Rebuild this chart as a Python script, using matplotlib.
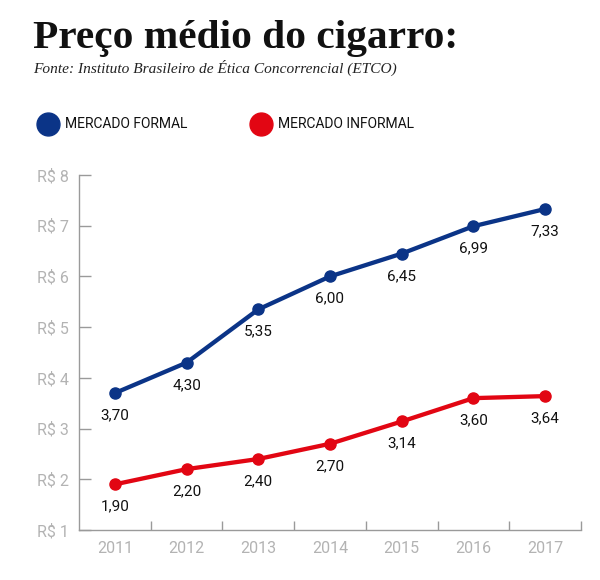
import matplotlib
matplotlib.use("Agg")
import matplotlib.pyplot as plt
from matplotlib.ticker import FixedLocator
from matplotlib.lines import Line2D

years = ["2011", "2012", "2013", "2014", "2015", "2016", "2017"]
formal = [3.70, 4.30, 5.35, 6.00, 6.45, 6.99, 7.33]
informal = [1.90, 2.20, 2.40, 2.70, 3.14, 3.60, 3.64]
yticks = [1, 2, 3, 4, 5, 6, 7, 8]
ytick_labels = ["R$ %d" % v for v in yticks]

BLUE = "#0b3487"
RED = "#e20613"
GRAY_AX = "#9a9a9a"
GRAY_TXT = "#b3b3b3"

W, H = 600, 580
fig = plt.figure(figsize=(6, 5.8), dpi=100)
fig.patch.set_facecolor("white")

ax = fig.add_axes([79 / W, 1 - 530 / H, (581 - 79) / W, (530 - 175) / H])
x = list(range(len(years)))

ax.plot(x, formal, color=BLUE, lw=3.1, marker="o", ms=8, solid_capstyle="round", zorder=3)
ax.plot(x, informal, color=RED, lw=3.1, marker="o", ms=8, solid_capstyle="round", zorder=3)

def fmt(v):
    return ("%.2f" % v).replace(".", ",")

for xi, v in zip(x, formal):
    ax.annotate(fmt(v), (xi, v), xytext=(0, -11), textcoords="offset points",
                ha="center", va="top", fontsize=11, family="Roboto", color="#111111")
for xi, v in zip(x, informal):
    ax.annotate(fmt(v), (xi, v), xytext=(0, -11), textcoords="offset points",
                ha="center", va="top", fontsize=11, family="Roboto", color="#111111")

ax.set_xlim(-0.5, len(years) - 0.5)
ax.set_ylim(1, 8)
for s in ["top", "right"]:
    ax.spines[s].set_visible(False)
for s in ["left", "bottom"]:
    ax.spines[s].set_color(GRAY_AX)
    ax.spines[s].set_linewidth(1.0)

ax.set_yticks(yticks)
ax.set_yticklabels(ytick_labels)
ax.tick_params(axis="y", direction="in", length=8.5, width=1, color=GRAY_AX,
               labelcolor=GRAY_TXT, labelsize=11.5, pad=7)
ax.set_xticks(x)
ax.set_xticklabels(years)
ax.tick_params(axis="x", which="major", length=0, labelcolor=GRAY_TXT, labelsize=11.5, pad=8)
ax.xaxis.set_minor_locator(FixedLocator([i + 0.5 for i in range(len(years))]))
ax.tick_params(axis="x", which="minor", direction="in", length=6.5, width=1, color=GRAY_AX)
for lab in ax.get_xticklabels() + ax.get_yticklabels():
    lab.set_family("Roboto")

fig.text(33 / W, 1 - 48 / H, "Preço médio do cigarro:", fontsize=29.8, fontweight="bold",
         family="Liberation Serif", color="#111111", va="baseline")
fig.text(33 / W, 1 - 73 / H, "Fonte: Instituto Brasileiro de Ética Concorrencial (ETCO)",
         fontsize=11.1, style="italic", family="Liberation Serif", color="#222222", va="baseline")

# legend
fig.add_artist(Line2D([48 / W], [1 - 124 / H], marker="o", ms=16.5, color=BLUE,
                      transform=fig.transFigure))
fig.text(65 / W, 1 - 124 / H, "MERCADO FORMAL", fontsize=10, family="Roboto",
         color="#111111", va="center")
fig.add_artist(Line2D([261 / W], [1 - 124 / H], marker="o", ms=16.5, color=RED,
                      transform=fig.transFigure))
fig.text(278 / W, 1 - 124 / H, "MERCADO INFORMAL", fontsize=10, family="Roboto",
         color="#111111", va="center")

fig.savefig("out.png", dpi=100, facecolor="white")
